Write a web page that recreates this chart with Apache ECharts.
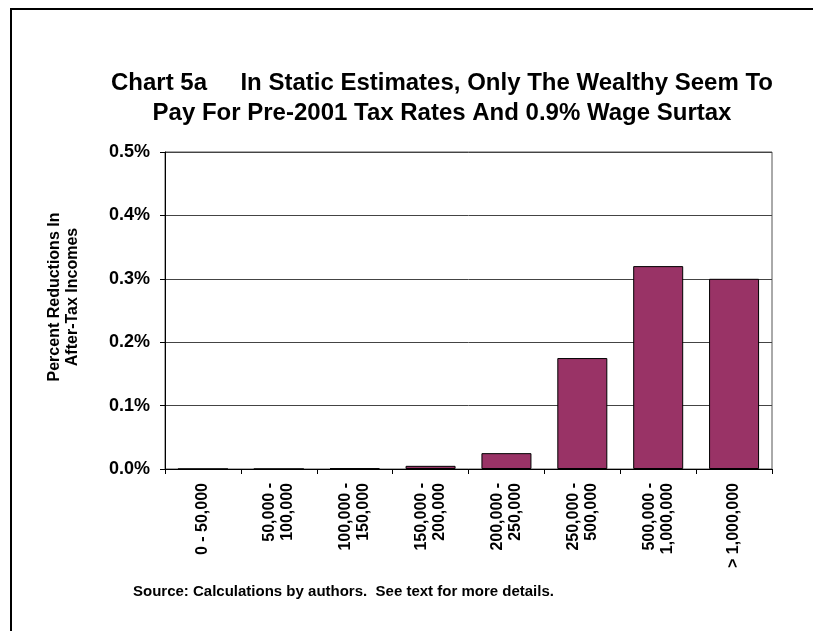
<!DOCTYPE html>
<html>
<head>
<meta charset="utf-8">
<script src="https://cdn.jsdelivr.net/npm/echarts@6/dist/echarts.min.js"></script>
<style>
  html, body { margin: 0; padding: 0; background: #fff; }
  #chart { width: 813px; height: 631px; }
</style>
</head>
<body>
<div id="chart"></div>
<script>
// Income brackets (dollars) on the horizontal axis
const categories = [
  '0 - 50,000',
  '50,000 -\n100,000',
  '100,000 -\n150,000',
  '150,000 -\n200,000',
  '200,000 -\n250,000',
  '250,000 -\n500,000',
  '500,000 -\n1,000,000',
  '> 1,000,000'
];

// Percent reduction in after-tax income for each bracket
const reductions = [0, 0, 0.001, 0.005, 0.025, 0.175, 0.32, 0.30];

// Value axis range and step, in percent
const yMin = 0;
const yMax = 0.5;
const yStep = 0.1;

const titleLines = [
  'Chart 5a     In Static Estimates, Only The Wealthy Seem To',
  'Pay For Pre-2001 Tax Rates And 0.9% Wage Surtax'
];
const yAxisTitle = ['Percent Reductions In', 'After-Tax Incomes'];
const sourceNote = 'Source: Calculations by authors.  See text for more details.';

const FONT = 'Liberation Sans, Arial, Helvetica, sans-serif';

const chart = echarts.init(document.getElementById('chart'), null, { renderer: 'canvas' });

chart.setOption({
  backgroundColor: '#ffffff',
  animation: false,
  title: {
    text: titleLines.join('\n'),
    left: 437,
    top: 63,
    textAlign: 'center',
    textStyle: {
      fontFamily: FONT,
      fontWeight: 'bold',
      fontSize: 24,
      lineHeight: 30,
      color: '#000'
    }
  },
  grid: {
    left: 165,
    right: 41,
    top: 152,
    bottom: 162,
    show: true,
    borderColor: '#555',
    borderWidth: 1,
    backgroundColor: 'transparent'
  },
  xAxis: {
    type: 'category',
    data: categories,
    axisLine: { lineStyle: { color: '#000', width: 1 } },
    axisTick: { show: true, length: 5, lineStyle: { color: '#000' } },
    axisLabel: {
      rotate: 90,
      interval: 0,
      margin: 14,
      fontFamily: FONT,
      fontWeight: 'bold',
      fontSize: 16,
      lineHeight: 18,
      color: '#000'
    }
  },
  yAxis: {
    type: 'value',
    min: yMin,
    max: yMax,
    interval: yStep,
    axisLine: { show: true, lineStyle: { color: '#000', width: 1 } },
    axisTick: { show: true, length: 5, lineStyle: { color: '#000' } },
    splitLine: { show: true, lineStyle: { color: '#444', width: 1 } },
    axisLabel: {
      margin: 15,
      fontFamily: FONT,
      fontWeight: 'bold',
      fontSize: 18,
      color: '#000',
      formatter: v => v.toFixed(1) + '%'
    }
  },
  series: [{
    type: 'bar',
    data: reductions,
    barWidth: 50,
    itemStyle: {
      color: '#993366',
      borderColor: '#000',
      borderWidth: 1
    }
  }],
  graphic: [
    // outer frame: top and left edges
    { type: 'line', shape: { x1: 11, y1: 9, x2: 813, y2: 9 }, style: { stroke: '#000', lineWidth: 2 } },
    { type: 'line', shape: { x1: 11, y1: 8, x2: 11, y2: 631 }, style: { stroke: '#000', lineWidth: 2 } },
    {
      type: 'text',
      x: 64,
      y: 297,
      rotation: Math.PI / 2,
      style: {
        text: yAxisTitle.join('\n'),
        fontFamily: FONT,
        fontWeight: 'bold',
        fontSize: 16,
        lineHeight: 18,
        fill: '#000',
        align: 'center',
        verticalAlign: 'middle'
      }
    },
    {
      type: 'text',
      x: 133,
      y: 584,
      style: {
        text: sourceNote,
        fontFamily: FONT,
        fontWeight: 'bold',
        fontSize: 15,
        fill: '#000'
      }
    }
  ]
});
</script>
</body>
</html>
